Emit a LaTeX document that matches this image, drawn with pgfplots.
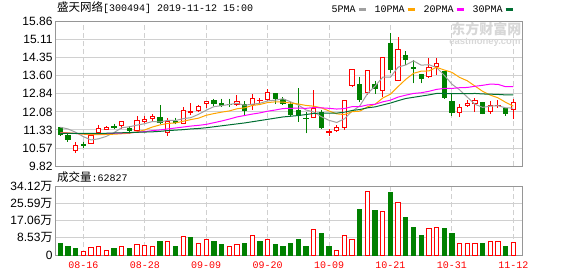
\documentclass[border=0pt]{standalone}
\usepackage{pgfplots}
\pgfplotsset{compat=1.18}
\usepgfplotslibrary{statistics}
\usepackage{fontspec}
\setmainfont{Liberation Sans}
\newfontfamily\cjk{Noto Sans CJK SC}
\newfontfamily\mono{Liberation Mono}
\definecolor{frame}{RGB}{150,150,150}
\definecolor{gridc}{RGB}{208,208,208}
\definecolor{cred}{RGB}{255,0,0}
\definecolor{cgreen}{RGB}{0,128,0}
\definecolor{maA}{RGB}{160,160,160}
\definecolor{maB}{RGB}{255,165,0}
\definecolor{maC}{RGB}{255,0,255}
\definecolor{maD}{RGB}{0,110,50}
\definecolor{wm}{RGB}{215,215,215}
% candle: position, low, body bottom, body top, high
\newcommand{\cR}[5]{\addplot[forget plot, draw=cred, fill=white, line width=1pt, boxplot prepared={draw direction=y, draw position=#1, lower whisker=#2, lower quartile=#3, median=#4, upper quartile=#4, upper whisker=#5, box extend=0.56, whisker extend=0}] coordinates {};}
\newcommand{\cG}[5]{\addplot[forget plot, draw=cgreen, fill=cgreen, line width=1pt, boxplot prepared={draw direction=y, draw position=#1, lower whisker=#2, lower quartile=#3, median=#4, upper quartile=#4, upper whisker=#5, box extend=0.56, whisker extend=0}] coordinates {};}
\begin{document}
\begin{tikzpicture}
\path[use as bounding box] (0pt,0pt) rectangle (578pt,276pt);
\node[anchor=west, inner sep=0pt] at (57pt,268.5pt) {\fontsize{11.5}{12}\cjk 盛天网络\mono\fontsize{10}{12}\selectfont[300494] 2019-11-12 15:00};
\node[anchor=west, inner sep=0pt] at (57pt,99pt) {\fontsize{11.5}{12}\cjk 成交量\mono\fontsize{10}{12}\selectfont:62827};
\begin{axis}[
  at={(55.7pt,109.9pt)}, anchor=south west, scale only axis,
  width=466.6pt, height=144.8pt,
  xmin=-0.6, xmax=60.17, ymin=9.82, ymax=15.86,
  xtick={3,11,19,27,35,43,51,59}, xticklabels={},
  ytick={9.82,10.57,11.33,12.08,12.84,13.60,14.35,15.11,15.86},
  yticklabels={9.82,10.57,11.33,12.08,12.84,13.60,14.35,15.11,15.86},
  major tick length=0pt,
  xmajorgrids, ymajorgrids,
  x grid style={gridc, line width=1pt, dash pattern=on 5pt off 3pt},
  y grid style={gridc, line width=1pt},
  axis line style={frame, line width=1pt},
  tick label style={font=\fontsize{12}{12}\selectfont},
  yticklabel style={inner sep=0pt, xshift=-3pt, anchor=east},
  legend columns=4, legend plot pos=right,
  legend style={at={(1,1)}, anchor=south east, xshift=-8pt, yshift=6pt, draw=none, fill=none, inner sep=0pt,
    font=\mono\fontsize{10}{10}\selectfont, nodes={inner sep=1.5pt},
    /tikz/every even column/.append style={column sep=6pt}},
  legend image code/.code={\draw[#1, line width=3pt] (0pt,0pt) -- (7pt,0pt);},
]
\node[text=wm, font=\cjk\fontsize{14}{14}\selectfont\bfseries, anchor=center, inner sep=0pt] at (axis cs:55.5,15.52) {东方财富网};
\node[text=wm, font=\fontsize{9.5}{10}\selectfont\bfseries, anchor=center, inner sep=0pt] at (axis cs:55.3,15.0) {eastmoney.com};
\cG{0}{11.09}{11.15}{11.42}{11.46}
\cG{1}{10.84}{10.94}{11.11}{11.19}
\cR{2}{10.38}{10.46}{10.66}{10.81}
\cG{3}{10.59}{10.69}{10.71}{10.84}
\cR{4}{10.75}{10.77}{11.11}{11.19}
\cR{5}{11.21}{11.23}{11.40}{11.53}
\cR{6}{11.31}{11.35}{11.45}{11.50}
\cG{7}{11.35}{11.45}{11.47}{11.59}
\cR{8}{11.37}{11.52}{11.70}{11.72}
\cG{9}{11.17}{11.31}{11.38}{11.48}
\cR{10}{11.28}{11.30}{11.74}{11.92}
\cR{11}{11.60}{11.69}{11.75}{11.92}
\cR{12}{11.70}{11.80}{11.88}{11.99}
\cG{13}{11.61}{11.63}{11.86}{12.37}
\cR{14}{11.08}{11.23}{11.66}{11.84}
\cG{15}{11.56}{11.66}{11.68}{11.84}
\cR{16}{11.56}{11.60}{12.15}{12.27}
\cR{17}{11.94}{12.07}{12.10}{12.44}
\cR{18}{12.06}{12.15}{12.31}{12.37}
\cR{19}{12.26}{12.42}{12.52}{12.53}
\cG{20}{12.34}{12.42}{12.56}{12.63}
\cG{21}{12.30}{12.35}{12.42}{12.63}
\cG{22}{12.30}{12.37}{12.39}{12.63}
\cR{23}{12.33}{12.37}{12.52}{12.80}
\cG{24}{11.95}{12.13}{12.38}{12.52}
\cR{25}{12.17}{12.41}{12.62}{12.81}
\cR{26}{12.40}{12.55}{12.57}{12.66}
\cR{27}{12.55}{12.59}{12.88}{13.04}
\cG{28}{12.41}{12.63}{12.83}{12.84}
\cG{29}{12.37}{12.44}{12.61}{12.69}
\cG{30}{11.93}{11.99}{12.37}{12.50}
\cG{31}{11.67}{11.92}{12.12}{13.06}
\cG{32}{11.19}{11.80}{11.82}{12.06}
\cR{33}{11.84}{11.86}{12.23}{12.99}
\cG{34}{11.35}{11.44}{12.06}{12.16}
\cR{35}{11.09}{11.23}{11.27}{11.37}
\cR{36}{11.25}{11.31}{11.44}{11.53}
\cR{37}{11.33}{11.45}{12.55}{12.56}
\cR{38}{13.11}{13.20}{13.83}{13.84}
\cG{39}{12.48}{12.58}{13.23}{13.55}
\cR{40}{12.79}{12.88}{13.82}{13.84}
\cG{41}{12.83}{13.04}{13.24}{13.37}
\cR{42}{12.71}{12.98}{14.36}{14.37}
\cG{43}{13.69}{13.84}{14.94}{15.38}
\cR{44}{13.38}{13.40}{14.70}{15.22}
\cG{45}{14.04}{14.25}{14.45}{14.62}
\cG{46}{13.27}{13.91}{13.93}{14.25}
\cG{47}{13.27}{13.47}{13.66}{13.67}
\cR{48}{13.53}{13.55}{13.94}{14.32}
\cR{49}{13.62}{13.97}{14.08}{14.32}
\cG{50}{12.65}{12.67}{13.76}{13.78}
\cG{51}{11.92}{12.05}{12.53}{12.86}
\cR{52}{11.85}{12.05}{12.27}{12.40}
\cR{53}{12.31}{12.33}{12.44}{12.58}
\cR{54}{12.09}{12.44}{12.55}{12.65}
\cG{55}{11.98}{12.02}{12.48}{12.50}
\cR{56}{11.99}{12.09}{12.33}{12.55}
\cR{57}{12.23}{12.33}{12.35}{12.58}
\cG{58}{11.92}{12.02}{12.23}{12.24}
\cR{59}{11.78}{12.19}{12.46}{12.62}
\addplot[maA, line width=1pt] coordinates {(0,11.44)(1,11.37)(2,11.23)(3,11.05)(4,10.91)(5,10.96)(6,11.06)(7,11.22)(8,11.42)(9,11.46)(10,11.53)(11,11.59)(12,11.68)(13,11.66)(14,11.73)(15,11.72)(16,11.80)(17,11.84)(18,11.98)(19,12.15)(20,12.30)(21,12.34)(22,12.39)(23,12.44)(24,12.36)(25,12.40)(26,12.44)(27,12.54)(28,12.57)(29,12.63)(30,12.50)(31,12.37)(32,12.16)(33,12.08)(34,11.88)(35,11.73)(36,11.64)(37,11.79)(38,12.11)(39,12.33)(40,12.84)(41,13.16)(42,13.53)(43,13.53)(44,13.95)(45,14.04)(46,14.21)(47,14.03)(48,14.05)(49,13.93)(50,13.61)(51,13.24)(52,13.00)(53,12.70)(54,12.40)(55,12.27)(56,12.32)(57,12.34)(58,12.25)(59,12.24)};
\addlegendentry{5PMA}
\addplot[maB, line width=1pt] coordinates {(0,11.22)(1,11.21)(2,11.18)(3,11.15)(4,11.13)(5,11.13)(6,11.14)(7,11.15)(8,11.17)(9,11.19)(10,11.25)(11,11.33)(12,11.45)(13,11.54)(14,11.60)(15,11.62)(16,11.69)(17,11.76)(18,11.82)(19,11.94)(20,12.01)(21,12.07)(22,12.12)(23,12.21)(24,12.25)(25,12.35)(26,12.39)(27,12.47)(28,12.50)(29,12.49)(30,12.45)(31,12.41)(32,12.35)(33,12.32)(34,12.25)(35,12.12)(36,12.00)(37,11.97)(38,12.09)(39,12.11)(40,12.29)(41,12.40)(42,12.66)(43,12.82)(44,13.14)(45,13.44)(46,13.69)(47,13.78)(48,13.79)(49,13.94)(50,13.83)(51,13.73)(52,13.52)(53,13.38)(54,13.16)(55,12.94)(56,12.78)(57,12.67)(58,12.48)(59,12.32)};
\addlegendentry{10PMA}
\addplot[maC, line width=1pt] coordinates {(0,11.20)(1,11.19)(2,11.18)(3,11.17)(4,11.17)(5,11.17)(6,11.18)(7,11.19)(8,11.20)(9,11.21)(10,11.23)(11,11.26)(12,11.30)(13,11.33)(14,11.37)(15,11.41)(16,11.45)(17,11.49)(18,11.52)(19,11.56)(20,11.63)(21,11.70)(22,11.78)(23,11.87)(24,11.93)(25,11.99)(26,12.04)(27,12.11)(28,12.16)(29,12.22)(30,12.23)(31,12.24)(32,12.23)(33,12.26)(34,12.25)(35,12.23)(36,12.20)(37,12.22)(38,12.30)(39,12.30)(40,12.37)(41,12.40)(42,12.50)(43,12.57)(44,12.70)(45,12.78)(46,12.85)(47,12.88)(48,12.94)(49,13.02)(50,13.06)(51,13.06)(52,13.09)(53,13.10)(54,13.15)(55,13.19)(56,13.24)(57,13.23)(58,13.13)(59,13.13)};
\addlegendentry{20PMA}
\addplot[maD, line width=1pt] coordinates {(0,11.19)(1,11.19)(2,11.18)(3,11.18)(4,11.18)(5,11.19)(6,11.19)(7,11.20)(8,11.21)(9,11.22)(10,11.23)(11,11.24)(12,11.25)(13,11.27)(14,11.30)(15,11.32)(16,11.34)(17,11.37)(18,11.39)(19,11.42)(20,11.46)(21,11.50)(22,11.54)(23,11.58)(24,11.62)(25,11.67)(26,11.72)(27,11.77)(28,11.82)(29,11.87)(30,11.90)(31,11.93)(32,11.97)(33,12.02)(34,12.03)(35,12.03)(36,12.03)(37,12.07)(38,12.14)(39,12.18)(40,12.25)(41,12.29)(42,12.37)(43,12.45)(44,12.55)(45,12.64)(46,12.69)(47,12.74)(48,12.79)(49,12.85)(50,12.85)(51,12.84)(52,12.84)(53,12.84)(54,12.85)(55,12.83)(56,12.82)(57,12.81)(58,12.79)(59,12.79)};
\addlegendentry{30PMA}
\end{axis}
\begin{axis}[
  at={(55.7pt,21pt)}, anchor=south west, scale only axis,
  width=466.6pt, height=69pt,
  xmin=-0.6, xmax=60.17, ymin=0, ymax=34.12,
  xtick={3,11,19,27,35,43,51,59},
  xticklabels={08-16,08-28,09-09,09-20,10-09,10-21,10-31,11-12},
  ytick={0,8.53,17.06,25.59,34.12},
  yticklabels={0,8.53{\cjk 万},17.06{\cjk 万},25.59{\cjk 万},34.12{\cjk 万}},
  major tick length=0pt,
  xmajorgrids, ymajorgrids,
  x grid style={gridc, line width=1pt, dash pattern=on 5pt off 3pt},
  y grid style={gridc, line width=1pt},
  axis line style={frame, line width=1pt},
  yticklabel style={font=\fontsize{12}{12}\selectfont, inner sep=0pt, xshift=-3pt, anchor=east},
  xticklabel style={font=\mono\fontsize{10}{10}\selectfont, text=cred, inner sep=0pt, yshift=-7pt},
]
\addplot[ybar, bar width=0.56, bar shift=0pt, draw=cred, fill=white, line width=1pt] coordinates {(3,1.81)(4,3.79)(5,4.29)(6,2.47)(8,4.29)(10,5.27)(11,4.78)(12,4.29)(14,6.43)(16,9.23)(18,5.44)(19,7.42)(22,4.29)(23,4.95)(25,9.73)(27,7.75)(33,12.7)(36,2.31)(37,9.73)(38,7.75)(40,31.5)(42,21.6)(44,26.1)(48,13.2)(49,13.7)(52,5.77)(53,5.44)(54,5.77)(56,6.43)(57,6.92)(59,6.28)};
\addplot[ybar, bar width=0.56, bar shift=0pt, draw=cgreen, fill=cgreen, line width=1pt] coordinates {(0,5.44)(1,3.96)(2,3.46)(7,2.97)(9,2.97)(13,6.92)(15,4.45)(17,8.41)(20,6.43)(21,4.95)(24,5.44)(26,6.43)(28,4.95)(29,4.29)(30,5.44)(31,7.91)(32,4.45)(34,10.4)(35,4.45)(39,22.3)(41,21.8)(43,30.7)(45,18.3)(46,13.8)(47,9.89)(50,12.9)(51,10.4)(55,5.93)(58,4.45)};
\end{axis}
\end{tikzpicture}
\end{document}
